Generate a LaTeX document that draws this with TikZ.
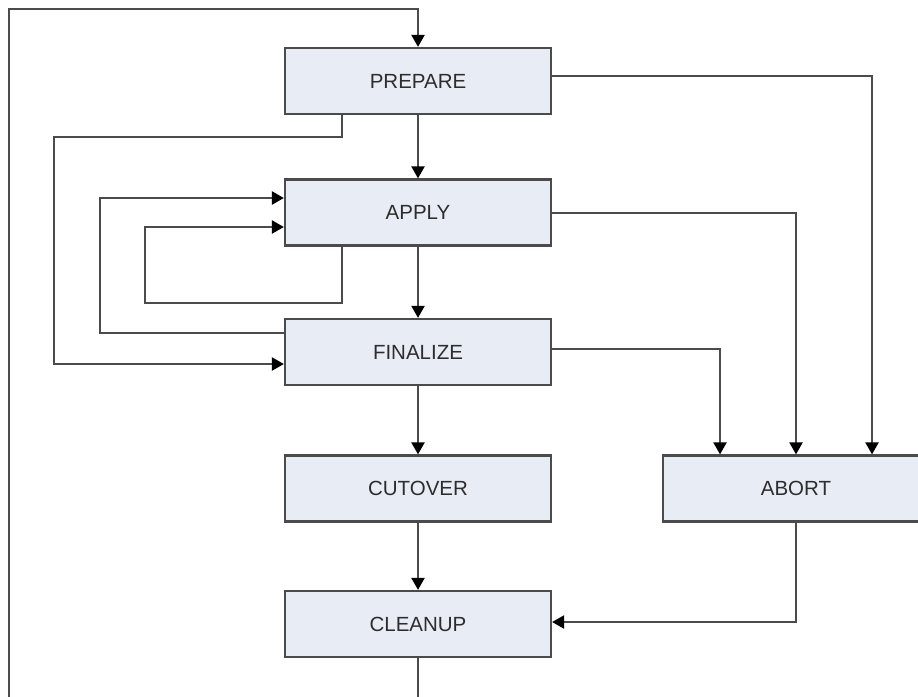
\documentclass[tikz,border=0pt]{standalone}
\usepackage{fontspec}
\setmainfont{Liberation Sans}
\usetikzlibrary{arrows.meta}
\definecolor{boxfill}{RGB}{232,236,245}
\definecolor{linegray}{RGB}{75,75,75}
\definecolor{textgray}{RGB}{45,45,45}
\begin{document}
\begin{tikzpicture}[x=1pt,y=-1pt,
  stage/.style={draw=linegray, line width=2.2pt, fill=boxfill, minimum width=266pt, minimum height=66pt, inner sep=0pt, font=\fontsize{20.5}{24}\selectfont, text=textgray},
  conn/.style={draw=linegray, line width=2.2pt, -{Triangle[length=12pt,width=13pt,color=black]}},
  plain/.style={draw=linegray, line width=2.2pt}]
\useasboundingbox (0,0) rectangle (918,696);
\clip (0,0) rectangle (918,696);
\node[stage] (prepare)  at (418,81)    {PREPARE};
\node[stage] (apply)    at (418,212.5) {APPLY};
\node[stage] (finalize) at (418,352)   {FINALIZE};
\node[stage] (cutover)  at (418,488.5) {CUTOVER};
\node[stage] (abort)    at (796,488.5) {ABORT};
\node[stage] (cleanup)  at (418,624)   {CLEANUP};
\coordinate (loopbr) at (418,720);
\coordinate (looptl) at (9,9);
% outer loop
\draw[conn] (cleanup.south) -- (loopbr) -| (looptl) -| (prepare.north);
% main flow
\draw[conn] (prepare) -- (apply);
\draw[conn] (apply) -- (finalize);
\draw[conn] (finalize) -- (cutover);
\draw[conn] (cutover) -- (cleanup);
% back / skip loops
\draw[conn] ([xshift=-76pt]prepare.south) -- ++(0,22) -| (54,364) -- (finalize.west |- 0,364);
\draw[conn] (finalize.west |- 0,333) -| (100,198) -- (apply.west |- 0,198);
\draw[conn] ([xshift=-76pt]apply.south) |- (145,303) |- (apply.west |- 0,227);
% abort paths
\draw[conn] (prepare.east |- 0,76) -| (abort.north -| 872,0);
\draw[conn] (apply.east |- 0,213) -| (abort.north -| 796,0);
\draw[conn] (finalize.east |- 0,349) -| (abort.north -| 720,0);
\draw[conn] (abort.south) |- (cleanup.east |- 0,622);
\end{tikzpicture}
\end{document}
